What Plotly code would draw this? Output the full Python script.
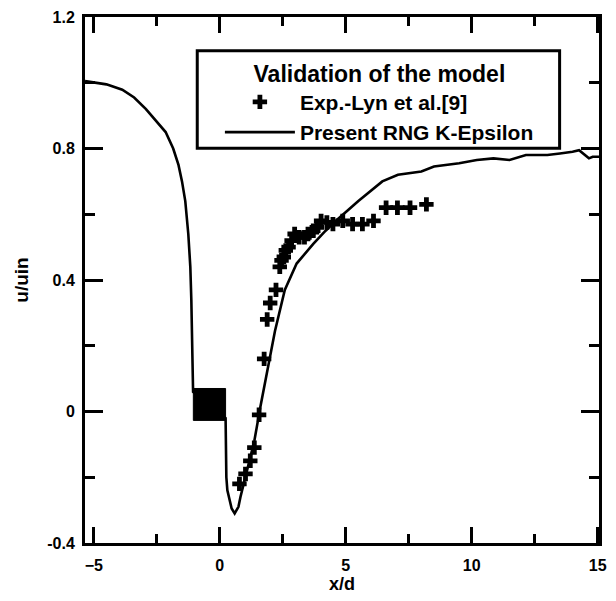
import plotly.graph_objects as go

# ---- data ----
curve_x = [-5.35, -5.0, -4.5, -3.87, -3.4, -2.93, -2.5, -2.15, -1.85, -1.64, -1.5, -1.37, -1.25, -1.17,
           -1.13, -1.09, -1.06, 0.23, 0.24, 0.26, 0.3, 0.39, 0.47, 0.59, 0.74, 0.82, 0.95, 1.09, 1.23,
           1.37, 1.6, 1.88, 2.19, 2.58, 3.05, 3.71, 4.2, 4.61, 5.5, 6.45, 7.07, 8.0, 8.5, 9.5, 10.2,
           10.86, 11.5, 12.15, 13.0, 13.5, 14.0, 14.26, 14.5, 14.65, 14.8, 15.05]
curve_y = [1.005, 1.0, 0.995, 0.979, 0.955, 0.92, 0.88, 0.85, 0.80, 0.75, 0.70, 0.64, 0.54, 0.44,
           0.34, 0.12, 0.06, -0.02, -0.12, -0.20, -0.24, -0.27, -0.295, -0.31, -0.29, -0.26, -0.22, -0.18, -0.13,
           -0.09, 0.01, 0.12, 0.245, 0.37, 0.45, 0.51, 0.55, 0.58, 0.64, 0.70, 0.72, 0.73, 0.745, 0.755, 0.765,
           0.77, 0.765, 0.78, 0.78, 0.785, 0.79, 0.795, 0.78, 0.77, 0.775, 0.775]

exp_x = [0.78, 1.02, 1.21, 1.37, 1.56, 1.76, 1.88, 2.0, 2.23, 2.38, 2.45, 2.54, 2.62, 2.73, 2.85, 2.97,
         3.15, 3.36, 3.5, 3.71, 3.85, 4.02, 4.25, 4.49, 4.88, 5.27, 5.66, 6.1, 6.6, 7.05, 7.55, 8.2]
exp_y = [-0.22, -0.19, -0.15, -0.11, -0.01, 0.16, 0.28, 0.33, 0.37, 0.44, 0.46, 0.47, 0.49, 0.50, 0.52, 0.54,
         0.53, 0.53, 0.54, 0.55, 0.56, 0.58, 0.575, 0.57, 0.58, 0.57, 0.57, 0.58, 0.62, 0.62, 0.62, 0.63]

cyl_x = [-1.05, 0.23, 0.23, -1.05, -1.05]
cyl_y = [-0.027, -0.027, 0.07, 0.07, -0.027]

x_ticks = [-5, 0, 5, 10, 15]
x_minor = [-2.5, 2.5, 7.5, 12.5]
y_ticks = [-0.4, 0, 0.4, 0.8, 1.2]
y_ticktext = ["-0.4", "0", "0.4", "0.8", "1.2"]
y_minor = [-0.2, 0.2, 0.6, 1.0]

FONT = "Liberation Sans"

fig = go.Figure()
fig.add_trace(go.Scatter(x=exp_x, y=exp_y, mode="markers", name="Exp.-Lyn et al.[9]",
                         legendgroup="a",
                         marker=dict(symbol="cross", size=12, color="black",
                                     line=dict(width=0))))
fig.add_trace(go.Scatter(x=curve_x, y=curve_y, mode="lines", name="Present RNG K-Epsilon",
                         legendgroup="b",
                         line=dict(color="black", width=2.6)))
fig.add_trace(go.Scatter(x=cyl_x, y=cyl_y, mode="lines", fill="toself", fillcolor="black",
                         line=dict(color="black", width=1), showlegend=False, hoverinfo="skip"))

axis_common = dict(showgrid=False, zeroline=False, showline=True, linecolor="black", linewidth=3,
                   mirror="allticks", ticks="inside", tickcolor="black", tickwidth=3,
                   tickfont=dict(family=FONT, size=16, color="black", weight="bold"))

fig.update_xaxes(range=[-5.35, 15.05], tickvals=x_ticks, ticklen=16,
                 minor=dict(tickvals=x_minor, ticks="inside", ticklen=9, tickwidth=3, tickcolor="black"),
                 title=dict(text="x/d", font=dict(family=FONT, size=18, color="black", weight="bold"), standoff=5),
                 ticklabelstandoff=6,
                 **axis_common)
fig.update_yaxes(range=[-0.4, 1.2], tickvals=y_ticks, ticktext=y_ticktext, ticklen=18,
                 minor=dict(tickvals=y_minor, ticks="inside", ticklen=10, tickwidth=3, tickcolor="black"),
                 title=dict(text="u/uin", font=dict(family=FONT, size=19, color="black", weight="bold"), standoff=14),
                 ticklabelstandoff=4,
                 **axis_common)

fig.update_layout(
    width=616, height=601,
    margin=dict(l=85, r=9, t=15, b=57),
    plot_bgcolor="white", paper_bgcolor="white",
    showlegend=True,
    legend=dict(
        x=(222 - 85) / 522, y=(544 - 50) / 529, xanchor="left", yanchor="top",
        bgcolor="rgba(0,0,0,0)", borderwidth=0,
        itemwidth=70, traceorder="grouped", tracegroupgap=0,
        title=dict(text="Validation of the model", side="top center",
                   font=dict(family=FONT, size=23, color="black", weight="bold")),
        font=dict(family=FONT, size=21, color="black", weight="bold"),
    ),
    shapes=[dict(type="rect", xref="paper", yref="paper",
                 x0=(199 - 85) / 522, x1=(567 - 85) / 522,
                 y0=(544 - 147) / 529, y1=(544 - 49) / 529,
                 line=dict(color="black", width=3), layer="above")],
)

fig.write_html("out.html")
